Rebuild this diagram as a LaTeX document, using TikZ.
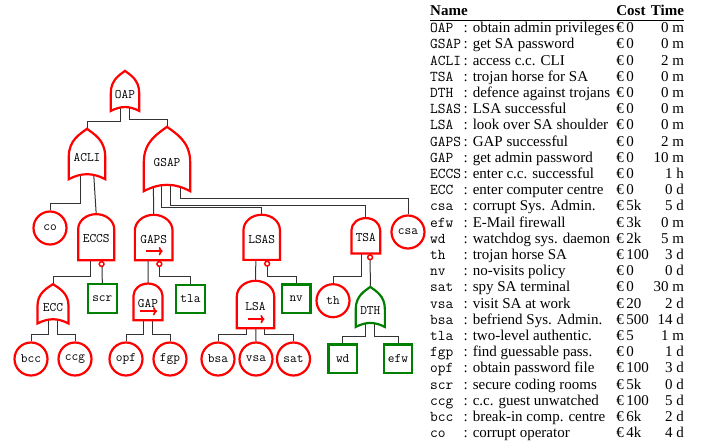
\documentclass[tikz,border=0pt]{standalone}
\usepackage{fontspec}
\setmainfont{Liberation Serif}
\usepackage{tikz}
\usetikzlibrary{calc,arrows.meta}
\pgfdeclarelayer{wires}
\pgfdeclarelayer{gates}
\pgfsetlayers{wires,gates,main}
\definecolor{defgreen}{RGB}{0,128,0}
\newcommand{\treefont}{\fontsize{13}{15}\selectfont\ttfamily}
\newcommand{\tablefont}{\fontsize{15}{16.2}\selectfont}
\tikzset{
  gate/.style={inner sep=0pt, font=\treefont, text depth=0pt},
  orgate/.style={gate, text height=14.8pt},
  andgate/.style={gate, text height=11.4pt},
  attack/.style={draw=red, line width=2.2pt, fill=white},
  defence/.style={draw=defgreen, line width=2.2pt, fill=white},
  attleaf/.style={circle, attack, minimum size=33pt, inner sep=0pt, font=\treefont},
  defleaf/.style={rectangle, defence, minimum size=28.6pt, inner sep=0pt, font=\treefont},
  wire/.style={draw=black!80, line width=1pt},
  sandarrow/.style={draw=red, line width=1.7pt, -{To[length=4pt]}},
  inhibitor/.style={draw=red, line width=1.5pt, fill=white}
}
\newcommand{\orshape}[2]{%
  \begin{pgfonlayer}{gates}
  \draw[#2] let \p1=(#1.south west), \p2=(#1.north east) in
    (\x1,\y1) -- (\x1,{\y1+0.45*(\y2-\y1)})
    .. controls (\x1,{\y1+0.78*(\y2-\y1)}) and ({\x1+0.32*(\x2-\x1)},{\y1+0.9*(\y2-\y1)}) .. ({0.5*(\x1+\x2)},\y2)
    .. controls ({\x2-0.32*(\x2-\x1)},{\y1+0.9*(\y2-\y1)}) and (\x2,{\y1+0.78*(\y2-\y1)}) .. (\x2,{\y1+0.45*(\y2-\y1)})
    -- (\x2,\y1) to[bend right=28] (\x1,\y1) -- cycle;
  \end{pgfonlayer}}
\newcommand{\andshape}[2]{%
  \begin{pgfonlayer}{gates}
  \draw[#2] let \p1=(#1.south west), \p2=(#1.north east) in
    (\x1,\y1) -- (\x1,{\y2-0.42*(\x2-\x1)})
    arc[start angle=180, end angle=0, x radius={0.5*(\x2-\x1)}, y radius={0.42*(\x2-\x1)}]
    -- (\x2,\y1) -- cycle;
  \end{pgfonlayer}}
\newcommand{\sandshape}[2]{%
  \andshape{#1}{#2}
  \draw[sandarrow] ($(#1.south)+(-8,-9)$) -- ++(17,0);}
\newcommand{\inhibit}[1]{%
  \begin{pgfonlayer}{gates}
  \draw[inhibitor] ($(#1.south west)!.65!(#1.south east)+(0,3.8)$) circle[radius=2.4pt];
  \end{pgfonlayer}}

\begin{document}
\begin{tikzpicture}[x=1pt, y=-1pt]
    \useasboundingbox (0,0) rectangle (707,444);
    \node[orgate, minimum width=28pt, minimum height=39.7pt] (OAP) at (125,90.9) {OAP};
    \node[orgate, minimum width=36pt, minimum height=50pt] (ACLI) at (87,154) {ACLI};
    \node[orgate, minimum width=46pt, minimum height=64pt] (GSAP) at (167,159) {GSAP};
    \node[andgate, minimum width=35.7pt, minimum height=45.7pt] (ECCS) at (96.2,237.2) {ECCS};
    \node[andgate, minimum width=37.3pt, minimum height=45pt] (GAPS) at (153.7,237.5) {GAPS};
    \node[andgate, minimum width=36pt, minimum height=44.7pt] (LSAS) at (261.7,237.3) {LSAS};
    \node[andgate, minimum width=28.3pt, minimum height=35pt] (TSA) at (365.8,235.8) {TSA};
    \node[orgate, minimum width=30.6pt, minimum height=39pt] (ECC) at (53,303.8) {ECC};
    \node[andgate, minimum width=28.6pt, minimum height=36.3pt] (GAP) at (148,301.9) {GAP};
    \node[andgate, minimum width=37pt, minimum height=47pt] (LSA) at (255.5,304.5) {LSA};
    \node[orgate, minimum width=28.7pt, minimum height=39.7pt] (DTH) at (370.3,306.9) {DTH};
    \node[attleaf] (co) at (50,228) {co};
    \node[attleaf] (csa) at (408,232) {csa};
    \node[attleaf] (th) at (333,300.7) {th};
    \node[defleaf] (scr) at (102.3,298.3) {scr};
    \node[defleaf] (tla) at (190.5,299) {tla};
    \node[defleaf] (nv) at (296.2,298.8) {nv};
    \node[attleaf] (bcc) at (31,359) {bcc};
    \node[attleaf] (ccg) at (75,359) {ccg};
    \node[attleaf] (opf) at (126,359) {opf};
    \node[attleaf] (fgp) at (170,359) {fgp};
    \node[attleaf] (bsa) at (218,359) {bsa};
    \node[attleaf] (vsa) at (256,359) {vsa};
    \node[attleaf] (sat) at (293.5,359) {sat};
    \node[defleaf] (wd) at (342.7,358.7) {wd};
    \node[defleaf] (efw) at (398,358.7) {efw};
    \orshape{OAP}{attack}
    \orshape{ACLI}{attack}
    \orshape{GSAP}{attack}
    \andshape{ECCS}{attack}
    \sandshape{GAPS}{attack}
    \andshape{LSAS}{attack}
    \andshape{TSA}{attack}
    \orshape{ECC}{attack}
    \sandshape{GAP}{attack}
    \sandshape{LSA}{attack}
    \orshape{DTH}{defence}
    \inhibit{ECCS}
    \inhibit{GAPS}
    \inhibit{LSAS}
    \inhibit{TSA}
    \begin{pgfonlayer}{wires}
    \draw[wire] ($(OAP.west)!.35!(OAP.east)$) |- ($(ACLI.north)+(0,-7)$) -- (ACLI.north);
    \draw[wire] ($(OAP.west)!.65!(OAP.east)$) |- ($(GSAP.north)+(0,-7)$) -- (GSAP.north);
    \draw[wire] ($(ACLI.west)!.33!(ACLI.east)$) |- ($(co.north)+(0,-7)$) -- (co.north);
    \draw[wire] ($(ACLI.west)!.65!(ACLI.east)$) -- (ECCS.north);
    \draw[wire] ($(GSAP.west)!.2!(GSAP.east)$) -- (GAPS.north);
    \draw[wire] ($(GSAP.west)!.39!(GSAP.east)$) |- ($(LSAS.north)+(0,-7)$) -- (LSAS.north);
    \draw[wire] ($(GSAP.west)!.58!(GSAP.east)$) |- ($(TSA.north)+(0,-13)$) -- (TSA.north);
    \draw[wire] ($(GSAP.west)!.79!(GSAP.east)$) |- ($(csa.north)+(0,-16)$) -- (csa.north);
    \draw[wire] ($(ECCS.west)!.35!(ECCS.east)$) |- ($(ECC.north)+(0,-8)$) -- (ECC.north);
    \draw[wire] ($(ECCS.west)!.65!(ECCS.east)$) -- (scr.north);
    \draw[wire] ($(GAPS.west)!.35!(GAPS.east)$) -- (GAP.north);
    \draw[wire] ($(GAPS.west)!.65!(GAPS.east)$) |- ($(tla.north)+(0,-7)$) -- (tla.north);
    \draw[wire] ($(LSAS.west)!.35!(LSAS.east)$) -- (LSA.north);
    \draw[wire] ($(LSAS.west)!.65!(LSAS.east)$) |- ($(nv.north)+(0,-7)$) -- (nv.north);
    \draw[wire] ($(TSA.west)!.35!(TSA.east)$) |- ($(th.north)+(0,-7)$) -- (th.north);
    \draw[wire] ($(TSA.west)!.65!(TSA.east)$) -- (DTH.north);
    \draw[wire] ($(ECC.west)!.35!(ECC.east)$) |- ($(bcc.north)+(0,-7)$) -- (bcc.north);
    \draw[wire] ($(ECC.west)!.65!(ECC.east)$) |- ($(ccg.north)+(0,-7)$) -- (ccg.north);
    \draw[wire] ($(GAP.west)!.35!(GAP.east)$) |- ($(opf.north)+(0,-7)$) -- (opf.north);
    \draw[wire] ($(GAP.west)!.65!(GAP.east)$) |- ($(fgp.north)+(0,-7)$) -- (fgp.north);
    \draw[wire] ($(LSA.west)!.26!(LSA.east)$) |- ($(bsa.north)+(0,-7)$) -- (bsa.north);
    \draw[wire] ($(LSA.west)!.51!(LSA.east)$) -- (vsa.north);
    \draw[wire] ($(LSA.west)!.74!(LSA.east)$) |- ($(sat.north)+(0,-7)$) -- (sat.north);
    \draw[wire] ($(DTH.west)!.35!(DTH.east)$) |- ($(wd.north)+(0,-7)$) -- (wd.north);
    \draw[wire] ($(DTH.west)!.65!(DTH.east)$) |- ($(efw.north)+(0,-7)$) -- (efw.north);
    \end{pgfonlayer}
    \node[anchor=north west, inner sep=0pt, font=\tablefont] (costs) at (430,4) {%
      \setlength{\arrayrulewidth}{1pt}%
      \begin{tabular}{@{}l@{\,}l@{\hspace{2pt}}l@{\hspace{2pt}}r@{}}
      \multicolumn{2}{@{}l}{\textbf{Name}} & \textbf{Cost} & \textbf{Time}\\ \hline
      \texttt{OAP} & : obtain admin privileges & €\,0 & 0 m\\
      \texttt{GSAP} & : get SA password & €\,0 & 0 m\\
      \texttt{ACLI} & : access c.c. CLI & €\,0 & 2 m\\
      \texttt{TSA} & : trojan horse for SA & €\,0 & 0 m\\
      \texttt{DTH} & : defence against trojans & €\,0 & 0 m\\
      \texttt{LSAS} & : LSA successful & €\,0 & 0 m\\
      \texttt{LSA} & : look over SA shoulder & €\,0 & 0 m\\
      \texttt{GAPS} & : GAP successful & €\,0 & 2 m\\
      \texttt{GAP} & : get admin password & €\,0 & 10 m\\
      \texttt{ECCS} & : enter c.c. successful & €\,0 & 1 h\\
      \texttt{ECC} & : enter computer centre & €\,0 & 0 d\\
      \texttt{csa} & : corrupt Sys. Admin. & €\,5k & 5 d\\
      \texttt{efw} & : E-Mail firewall & €\,3k & 0 m\\
      \texttt{wd} & : watchdog sys. daemon & €\,2k & 5 m\\
      \texttt{th} & : trojan horse SA & €\,100 & 3 d\\
      \texttt{nv} & : no-visits policy & €\,0 & 0 d\\
      \texttt{sat} & : spy SA terminal & €\,0 & 30 m\\
      \texttt{vsa} & : visit SA at work & €\,20 & 2 d\\
      \texttt{bsa} & : befriend Sys. Admin. & €\,500 & 14 d\\
      \texttt{tla} & : two-level authentic. & €\,5 & 1 m\\
      \texttt{fgp} & : find guessable pass. & €\,0 & 1 d\\
      \texttt{opf} & : obtain password file & €\,100 & 3 d\\
      \texttt{scr} & : secure coding rooms & €\,5k & 0 d\\
      \texttt{ccg} & : c.c. guest unwatched & €\,100 & 5 d\\
      \texttt{bcc} & : break-in comp. centre & €\,6k & 2 d\\
      \texttt{co} & : corrupt operator & €\,4k & 4 d
      \end{tabular}};
\end{tikzpicture}
\end{document}
